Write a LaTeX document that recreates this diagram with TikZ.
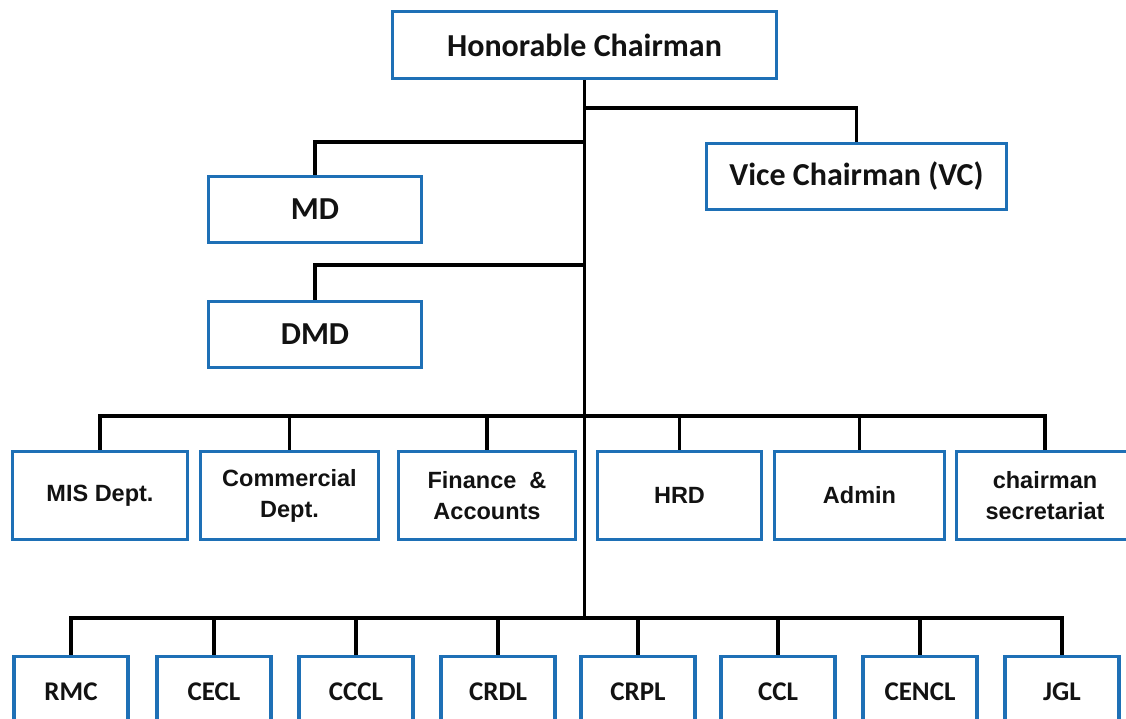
\documentclass[tikz,border=0pt]{standalone}
\usepackage{fontspec}
\setmainfont{Carlito}
\newfontfamily\arialf{Liberation Sans}
\definecolor{boxblue}{RGB}{30,112,182}
\definecolor{txt}{RGB}{18,18,18}
\begin{document}
\begin{tikzpicture}[x=1pt,y=-1pt,
  box/.style={draw=boxblue, line width=3.4pt, fill=white, inner sep=0pt, align=center, text=txt, font=\bfseries},
  topbox/.style={box, font=\fontsize{32}{36}\selectfont\bfseries},
  midbox/.style={box, minimum height=88pt, font=\arialf\fontsize{23.5}{31}\selectfont\bfseries},
  botbox/.style={box, minimum width=114pt, minimum height=71pt, font=\fontsize{27}{30}\selectfont\bfseries},
  ln/.style={line width=3.3pt, black, line join=miter}]
\useasboundingbox (0,0) rectangle (1126,719);
\fill[white] (0,0) rectangle (1126,719);
% coordinates of bus lines
\coordinate (hv) at (0,108);
\coordinate (hm) at (0,142);
\coordinate (hd) at (0,265);
\coordinate (hb) at (0,416);
\coordinate (hc) at (0,618);
% nodes
\node[topbox, minimum width=384pt, minimum height=67pt] (chair) at (584.5,45) {Honorable Chairman};
\node[topbox, minimum width=300pt, minimum height=66pt] (vc) at (856.5,176.5) {Vice Chairman (VC)};
\node[topbox, minimum width=213pt, minimum height=66pt] (md) at (315,209.5) {MD};
\node[topbox, minimum width=213pt, minimum height=66pt] (dmd) at (315,334.5) {DMD};
\node[midbox, minimum width=175pt] (mis) at (100,495.5) {MIS Dept.};
\node[midbox, minimum width=178pt] (com) at (289.5,495.5) {Commercial\\Dept.};
\node[midbox, minimum width=177pt] (fin) at (487,495.5) {Finance \ \&\\Accounts};
\node[midbox, minimum width=164pt] (hrd) at (679.5,495.5) {HRD};
\node[midbox, minimum width=170pt] (adm) at (859.5,495.5) {Admin};
\node[midbox, minimum width=177pt] (sec) at (1045,495.5) {chairman\\secretariat};
\node[botbox] (rmc) at (71,692) {RMC};
\node[botbox] (cecl) at (214,692) {CECL};
\node[botbox] (cccl) at (356,692) {CCCL};
\node[botbox] (crdl) at (498,692) {CRDL};
\node[botbox] (crpl) at (638,692) {CRPL};
\node[botbox] (ccl) at (778,692) {CCL};
\node[botbox] (cencl) at (920,692) {CENCL};
\node[botbox] (jgl) at (1062,692) {JGL};
% connectors
\draw[ln] (chair.south) -- (chair.south |- hc);
\draw[ln] (chair.south |- hv) -| (vc.north);
\draw[ln] (chair.south |- hm) -| (md.north);
\draw[ln] (chair.south |- hd) -| (dmd.north);
\draw[ln] (mis.north) |- (sec.north |- hb) -- (sec.north);
\foreach \n in {com,fin,hrd,adm} \draw[ln] (\n.north) -- (\n.north |- hb);
\draw[ln] (rmc.north) |- (jgl.north |- hc) -- (jgl.north);
\foreach \n in {cecl,cccl,crdl,crpl,ccl,cencl} \draw[ln] (\n.north) -- (\n.north |- hc);
\end{tikzpicture}
\end{document}
